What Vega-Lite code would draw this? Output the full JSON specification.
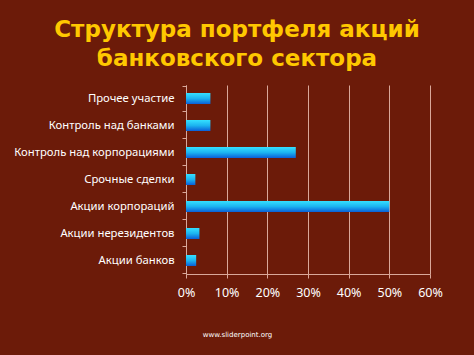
{
  "$schema": "https://vega.github.io/schema/vega-lite/v6.json",
  "autosize": "none",
  "width": 244,
  "height": 189,
  "padding": {"left": 186, "top": 85, "right": 44, "bottom": 81},
  "background": "#6c1b09",
  "title": {
    "text": ["Структура портфеля акций", "банковского сектора"],
    "anchor": "middle",
    "frame": "group",
    "dx": -71,
    "dy": 29,
    "offset": 19,
    "baseline": "alphabetic",
    "lineHeight": 29,
    "font": "DejaVu Sans",
    "fontSize": 23,
    "fontWeight": "bold",
    "color": "#FFC800"
  },
  "config": {
    "view": {"stroke": null},
    "axis": {
      "labelFont": "Noto Sans",
      "labelFontSize": 11.3,
      "labelColor": "#ffffff",
      "domainColor": "#d9a89a",
      "tickColor": "#d9a89a",
      "gridColor": "#d9a89a",
      "titleFont": "Noto Sans"
    }
  },
  "data": {
    "values": [
      {"category": "Прочее участие", "share": 0.06},
      {"category": "Контроль над банками", "share": 0.06},
      {"category": "Контроль над корпорациями", "share": 0.27},
      {"category": "Срочные сделки", "share": 0.023},
      {"category": "Акции корпораций", "share": 0.5},
      {"category": "Акции нерезидентов", "share": 0.033},
      {"category": "Акции банков", "share": 0.025}
    ]
  },
  "mark": {
    "type": "bar",
    "size": 11,
    "color": {
      "gradient": "linear",
      "x1": 0, "y1": 0, "x2": 0, "y2": 1,
      "stops": [
        {"offset": 0, "color": "#35e0ff"},
        {"offset": 0.5, "color": "#1cb4f0"},
        {"offset": 1, "color": "#0a5fd8"}
      ]
    }
  },
  "encoding": {
    "y": {
      "field": "category",
      "type": "nominal",
      "sort": null,
      "axis": {
        "title": null,
        "tickBand": "extent",
        "tickSize": 4,
        "labelPadding": 8,
        "domainWidth": 1
      }
    },
    "x": {
      "field": "share",
      "type": "quantitative",
      "scale": {"domain": [0, 0.6], "nice": false},
      "axis": {
        "format": ".0%",
        "values": [0, 0.1, 0.2, 0.3, 0.4, 0.5, 0.6],
        "grid": true,
        "gridWidth": 1,
        "tickSize": 4,
        "labelPadding": 8,
        "labelFlush": false,
        "labelFontSize": 12.5,
        "title": "www.sliderpoint.org",
        "titleColor": "#ffffff",
        "titleFont": "DejaVu Sans",
        "titleFontSize": 7,
        "titleFontWeight": "normal",
        "titleX": 51,
        "titleY": 60,
        "titleBaseline": "middle"
      }
    }
  }
}
